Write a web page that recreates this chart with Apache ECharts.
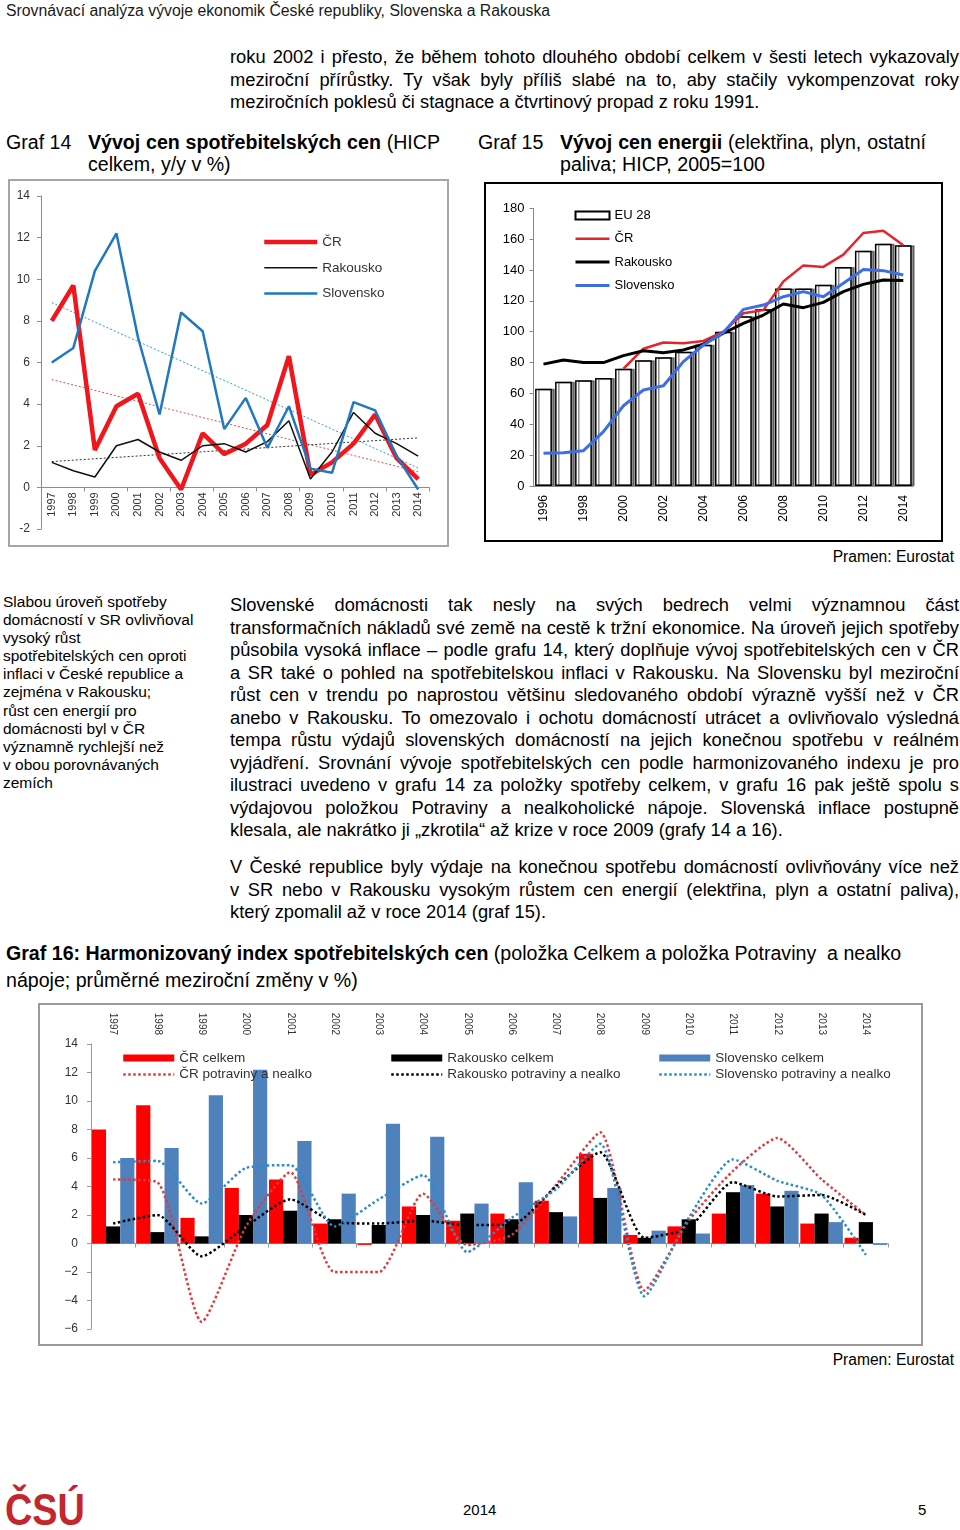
<!DOCTYPE html>
<html lang="cs"><head><meta charset="utf-8"><title>Srovnávací analýza</title>
<script src="https://cdn.jsdelivr.net/npm/echarts@6.0.0/dist/echarts.min.js"></script>
<style>
html,body{margin:0;padding:0;background:#fff}
body{width:960px;height:1530px;position:relative;overflow:hidden;font-family:'Liberation Sans',Arial,Helvetica,sans-serif;color:#000}
.a{position:absolute}
.j>div{text-align:justify;text-align-last:justify}
.j>div.e{text-align:left;text-align-last:left}
.box{position:absolute;box-sizing:border-box}
</style></head><body>
<div class="a" style="left:6px;top:2px;font-size:15.8px;line-height:18px;color:#1a1a1a;white-space:nowrap">Srovnávací analýza vývoje ekonomik České republiky, Slovenska a Rakouska</div>

<div class="a j" style="left:230px;top:46px;width:729px;font-size:18.3px;line-height:22.5px">
<div>roku 2002 i přesto, že během tohoto dlouhého období celkem v šesti letech vykazovaly</div>
<div>meziroční přírůstky. Ty však byly příliš slabé na to, aby stačily vykompenzovat roky</div>
<div class="e">meziročních poklesů či stagnace a čtvrtinový propad z roku 1991.</div>
</div>

<div class="a" style="left:6px;top:131px;font-size:19.6px;line-height:22px;white-space:nowrap">Graf 14</div>
<div class="a j" style="left:88px;top:131px;width:352px;font-size:19.6px;line-height:22px"><div><b>Vývoj cen spotřebitelských cen</b> (HICP</div><div class="e">celkem, y/y v %)</div></div>
<div class="a" style="left:478px;top:131px;font-size:19.6px;line-height:22px;white-space:nowrap">Graf 15</div>
<div class="a j" style="left:560px;top:131px;width:366px;font-size:19.6px;line-height:22px"><div><b>Vývoj cen energii</b> (elektřina, plyn, ostatní</div><div class="e">paliva; HICP, 2005=100</div></div>

<div id="g14" class="box" style="left:8px;top:179px;width:441px;height:368px;border:2px solid #a6a6a6"></div>
<div id="g15" class="box" style="left:484px;top:182px;width:459px;height:360px;border:2px solid #000"></div>

<div class="a" style="left:800px;top:547px;width:154px;text-align:right;font-size:15.6px;line-height:20px">Pramen: Eurostat</div>

<div class="a" style="left:3px;top:593px;width:222px;font-size:15.5px;line-height:18.1px">
<div>Slabou úroveň spotřeby</div>
<div>domácností v SR ovlivňoval</div>
<div>vysoký růst</div>
<div>spotřebitelských cen oproti</div>
<div>inflaci v České republice a</div>
<div>zejména v Rakousku;</div>
<div>růst cen energií pro</div>
<div>domácnosti byl v ČR</div>
<div>významně rychlejší než</div>
<div>v obou porovnávaných</div>
<div>zemích</div>
</div>

<div class="a j" style="left:230px;top:594px;width:729px;font-size:18.3px;line-height:22.5px">
<div>Slovenské domácnosti tak nesly na svých bedrech velmi významnou část</div>
<div>transformačních nákladů své země na cestě k tržní ekonomice. Na úroveň jejich spotřeby</div>
<div>působila vysoká inflace – podle grafu 14, který doplňuje vývoj spotřebitelských cen v ČR</div>
<div>a SR také o pohled na spotřebitelskou inflaci v Rakousku. Na Slovensku byl meziroční</div>
<div>růst cen v trendu po naprostou většinu sledovaného období výrazně vyšší než v ČR</div>
<div>anebo v Rakousku. To omezovalo i ochotu domácností utrácet a ovlivňovalo výsledná</div>
<div>tempa růstu výdajů slovenských domácností na jejich konečnou spotřebu v reálném</div>
<div>vyjádření. Srovnání vývoje spotřebitelských cen podle harmonizovaného indexu je pro</div>
<div>ilustraci uvedeno v grafu 14 za položky spotřeby celkem, v grafu 16 pak ještě spolu s</div>
<div>výdajovou položkou Potraviny a nealkoholické nápoje. Slovenská inflace postupně</div>
<div class="e">klesala, ale nakrátko ji „zkrotila“ až krize v roce 2009 (grafy 14 a 16).</div>
</div>

<div class="a j" style="left:230px;top:856px;width:729px;font-size:18.3px;line-height:22.5px">
<div>V České republice byly výdaje na konečnou spotřebu domácností ovlivňovány více než</div>
<div>v SR nebo v Rakousku vysokým růstem cen energií (elektřina, plyn a ostatní paliva),</div>
<div class="e">který zpomalil až v roce 2014 (graf 15).</div>
</div>

<div class="a" style="left:6px;top:939.5px;font-size:19.6px;line-height:27px;white-space:nowrap"><b>Graf 16: Harmonizovaný index spotřebitelských cen</b> (položka Celkem a položka Potraviny&nbsp; a nealko<br>nápoje; průměrné meziroční změny v %)</div>

<div id="g16" class="box" style="left:38px;top:1003px;width:885px;height:343px;border:2px solid #9a9a9a"></div>

<div class="a" style="left:800px;top:1350px;width:154px;text-align:right;font-size:15.6px;line-height:20px">Pramen: Eurostat</div>

<div class="a" style="left:5px;top:1488px;font-size:44px;line-height:44px;font-weight:bold;color:#c3272d;transform:scaleX(0.86);transform-origin:0 0;white-space:nowrap">ČSÚ</div>
<div class="a" style="left:463px;top:1501px;font-size:15px;line-height:18px">2014</div>
<div class="a" style="left:918px;top:1501px;font-size:15px;line-height:18px">5</div>

<script>
const FF = "'Liberation Sans', Arial, sans-serif";

// ---------- Graf 14 data ----------
const years14 = ['1997','1998','1999','2000','2001','2002','2003','2004','2005','2006','2007','2008','2009','2010','2011','2012','2013','2014'];
const cr14 = [8.0, 9.7, 1.8, 3.9, 4.5, 1.4, -0.1, 2.6, 1.6, 2.1, 3.0, 6.3, 0.6, 1.2, 2.1, 3.5, 1.4, 0.4];
const at14 = [1.2, 0.8, 0.5, 2.0, 2.3, 1.7, 1.3, 2.0, 2.1, 1.7, 2.2, 3.2, 0.4, 1.7, 3.6, 2.6, 2.1, 1.5];
const sk14 = [6.0, 6.7, 10.4, 12.2, 7.2, 3.5, 8.4, 7.5, 2.8, 4.3, 1.9, 3.9, 0.9, 0.7, 4.1, 3.7, 1.5, -0.1];
const trendYears14 = ['1997', '2014'];
const trendCr14 = [5.18, 0.75];
const trendAt14 = [1.24, 2.38];
const trendSk14 = [8.88, 0.93];

// ---------- Graf 15 data ----------
const years15 = ['1996','1997','1998','1999','2000','2001','2002','2003','2004','2005','2006','2007','2008','2009','2010','2011','2012','2013','2014'];
const eu15 = [63, 67.5, 68.5, 70, 76, 81.5, 83.5, 87, 91.5, 100, 110, 114.5, 128, 128, 130.5, 142, 152.5, 157, 156];
const cr15 = [null, null, null, null, 76, 89, 93, 92.5, 94, 100, 112, 114, 132.5, 143, 142, 150, 164, 165.5, 156];
const at15 = [79, 81.7, 80, 80, 84.5, 87.7, 86.4, 88.2, 92, 99, 105.4, 110.8, 118, 115.6, 119, 126, 130.7, 133.5, 133.2];
const sk15 = [21.2, 21.6, 22.9, 35.2, 52, 62.2, 65, 80.6, 91.4, 99.4, 114.5, 117.3, 122.7, 126, 122.7, 131.4, 140.4, 139.6, 136.8];

// ---------- Graf 16 data ----------
const years16 = ['1997','1998','1999','2000','2001','2002','2003','2004','2005','2006','2007','2008','2009','2010','2011','2012','2013','2014'];
const crTotal16 = [8.0, 9.7, 1.8, 3.9, 4.5, 1.4, -0.1, 2.6, 1.6, 2.1, 3.0, 6.3, 0.6, 1.2, 2.1, 3.5, 1.4, 0.4];
const atTotal16 = [1.2, 0.8, 0.5, 2.0, 2.3, 1.7, 1.3, 2.0, 2.1, 1.7, 2.2, 3.2, 0.4, 1.7, 3.6, 2.6, 2.1, 1.5];
const skTotal16 = [6.0, 6.7, 10.4, 12.2, 7.2, 3.5, 8.4, 7.5, 2.8, 4.3, 1.9, 3.9, 0.9, 0.7, 4.1, 3.7, 1.5, -0.1];
const crFood16 = [4.5, 4.3, -5.5, 1.2, 5.0, -2.0, -2.0, 3.5, -0.1, 0.6, 4.1, 7.8, -3.3, 1.6, 5.1, 7.4, 4.5, 2.0];
const atFood16 = [1.4, 2.0, -0.9, 1.2, 3.1, 1.5, 1.4, 1.6, 1.3, 1.3, 4.0, 6.4, 0.4, 1.1, 4.3, 3.3, 3.4, 2.0];
const skFood16 = [5.7, 5.8, 2.8, 5.3, 5.5, 1.2, 3.1, 4.8, -0.6, 1.8, 3.8, 7.0, -3.7, 1.8, 5.9, 4.4, 3.4, -0.8];

const pair = (xs, vs) => xs.map((x, i) => [x, vs[i]]);
const showIcon = { opacity: 1 };

// ---------- Graf 14 ----------
const c14 = echarts.init(document.getElementById('g14'));
c14.setOption({
  animation: false,
  textStyle: { fontFamily: FF },
  grid: { left: 31, right: 18, top: 15, bottom: 16, outerBoundsMode: 'none' },
  legend: {
    data: [
      { name: 'ČR', lineStyle: { width: 4.5 } },
      { name: 'Rakousko', lineStyle: { width: 1.5 } },
      { name: 'Slovensko', lineStyle: { width: 2.5 } }
    ],
    orient: 'vertical', left: 247, top: 49,
    itemWidth: 53, itemHeight: 12, itemGap: 11.8, itemStyle: { opacity: 0 },
    textStyle: { fontSize: 13.5, color: '#333', fontFamily: FF }
  },
  xAxis: [
    { type: 'category', data: years14, boundaryGap: true,
      axisLine: { onZero: true, lineStyle: { color: '#8c8c8c', width: 1 } },
      axisTick: { show: true, length: 4, lineStyle: { color: '#8c8c8c' } },
      axisLabel: { show: false } },
    { type: 'category', data: years14, boundaryGap: true, position: 'bottom', offset: -41.7,
      axisLine: { show: false, onZero: false }, axisTick: { show: false },
      axisLabel: { rotate: 90, fontSize: 11, color: '#333', margin: 5, interval: 0, fontFamily: FF } }
  ],
  yAxis: {
    type: 'value', min: -2, max: 14, interval: 2, splitLine: { show: false },
    axisLine: { show: true, lineStyle: { color: '#8c8c8c' } },
    axisTick: { show: true, length: 4, lineStyle: { color: '#8c8c8c' } },
    axisLabel: { fontSize: 12, color: '#333', margin: 11, fontFamily: FF }
  },
  series: [
    { name: 'trend ČR', type: 'line', data: pair(trendYears14, trendCr14), symbol: 'none', silent: true, lineStyle: { color: '#d9534f', width: 1, type: [2, 2] } },
    { name: 'trend Rakousko', type: 'line', data: pair(trendYears14, trendAt14), symbol: 'none', silent: true, lineStyle: { color: '#333', width: 1, type: [2, 2] } },
    { name: 'trend Slovensko', type: 'line', data: pair(trendYears14, trendSk14), symbol: 'none', silent: true, lineStyle: { color: '#3a95c8', width: 1, type: [2, 2] } },
    { name: 'ČR', type: 'line', data: cr14, symbol: 'none', lineStyle: { color: '#f0161b', width: 4.5 }, itemStyle: { color: '#f0161b' } },
    { name: 'Rakousko', type: 'line', data: at14, symbol: 'none', lineStyle: { color: '#111', width: 1.5 }, itemStyle: { color: '#111' } },
    { name: 'Slovensko', type: 'line', data: sk14, symbol: 'none', lineStyle: { color: '#1f78c1', width: 2.5 }, itemStyle: { color: '#1f78c1' } }
  ]
});

// ---------- Graf 15 ----------
const c15 = echarts.init(document.getElementById('g15'));
c15.setOption({
  animation: false,
  textStyle: { fontFamily: FF },
  grid: { left: 47.5, right: 27.7, top: 24.3, bottom: 54, outerBoundsMode: 'none' },
  legend: {
    orient: 'vertical', left: 83, top: 20, itemWidth: 34, itemHeight: 8, itemGap: 10.3,
    itemStyle: { opacity: 0 },
    data: [
      { name: 'EU 28', icon: 'rect', itemStyle: showIcon },
      { name: 'ČR', lineStyle: { width: 2.5 } },
      { name: 'Rakousko', lineStyle: { width: 3 } },
      { name: 'Slovensko', lineStyle: { width: 3 } }
    ],
    textStyle: { fontSize: 13, color: '#000', fontFamily: FF }
  },
  xAxis: {
    type: 'category', data: years15,
    axisLine: { lineStyle: { color: '#888' } },
    axisTick: { length: 4, interval: 0, lineStyle: { color: '#888' } },
    axisLabel: { rotate: 90, interval: 1, fontSize: 12, color: '#000', margin: 9, fontFamily: FF }
  },
  yAxis: {
    type: 'value', min: 0, max: 180, interval: 20, splitLine: { show: false },
    axisLine: { show: true, lineStyle: { color: '#888' } },
    axisTick: { show: true, length: 4, lineStyle: { color: '#888' } },
    axisLabel: { fontSize: 13, color: '#000', margin: 9, fontFamily: FF }
  },
  series: [
    { name: 'EU 28', type: 'bar', data: eu15, barCategoryGap: '16%',
      itemStyle: { color: '#fff', borderColor: '#000', borderWidth: 1.5, shadowColor: 'rgba(0,0,0,0.45)', shadowOffsetX: 3, shadowOffsetY: 0, shadowBlur: 0 } },
    { name: 'ČR', type: 'line', data: cr15, symbol: 'none', lineStyle: { color: '#e3262b', width: 2.5 }, itemStyle: { color: '#e3262b' } },
    { name: 'Rakousko', type: 'line', data: at15, symbol: 'none', lineStyle: { color: '#000', width: 3 }, itemStyle: { color: '#000' } },
    { name: 'Slovensko', type: 'line', data: sk15, symbol: 'none', lineStyle: { color: '#3d6ee6', width: 3 }, itemStyle: { color: '#3d6ee6' } }
  ]
});

// ---------- Graf 16 ----------
const legendBase = { orient: 'vertical', top: 41, itemWidth: 51, itemHeight: 7, itemGap: 2.5, itemStyle: { opacity: 0 },
  lineStyle: { width: 2.5 },
  textStyle: { fontSize: 13.5, color: '#333', fontFamily: FF } };
const c16 = echarts.init(document.getElementById('g16'));
c16.setOption({
  animation: false,
  textStyle: { fontFamily: FF },
  grid: { left: 51, right: 33, top: 39, bottom: 15, outerBoundsMode: 'none' },
  legend: [
    Object.assign({}, legendBase, { left: 77, data: [{ name: 'ČR celkem', icon: 'rect', itemStyle: showIcon }, 'ČR potraviny a nealko'] }),
    Object.assign({}, legendBase, { left: 345, data: [{ name: 'Rakousko celkem', icon: 'rect', itemStyle: showIcon }, 'Rakousko potraviny a nealko'] }),
    Object.assign({}, legendBase, { left: 613, data: [{ name: 'Slovensko celkem', icon: 'rect', itemStyle: showIcon }, 'Slovensko potraviny a nealko'] })
  ],
  xAxis: [
    { type: 'category', data: years16, position: 'top',
      axisLine: { show: false, onZero: false }, axisTick: { show: false },
      axisLabel: { rotate: 90, fontSize: 10, color: '#333', margin: 9, interval: 0, fontFamily: FF } },
    { type: 'category', data: years16, position: 'bottom',
      axisLine: { show: true, onZero: true, lineStyle: { color: '#999' } },
      axisTick: { show: true, length: 4, lineStyle: { color: '#999' } },
      axisLabel: { show: false } }
  ],
  yAxis: {
    type: 'value', min: -6, max: 14, interval: 2, splitLine: { show: false },
    axisLine: { show: true, lineStyle: { color: '#999' } },
    axisTick: { show: true, length: 4, lineStyle: { color: '#999' } },
    axisLabel: { fontSize: 12, color: '#333', margin: 13, fontFamily: FF, formatter: v => (v < 0 ? '−' + Math.abs(v) : String(v)) }
  },
  series: [
    { name: 'ČR celkem', type: 'bar', xAxisIndex: 0, data: crTotal16, barGap: '0%', barCategoryGap: '4%', itemStyle: { color: '#ff0000' } },
    { name: 'Rakousko celkem', type: 'bar', xAxisIndex: 0, data: atTotal16, barGap: '0%', barCategoryGap: '4%', itemStyle: { color: '#000000' } },
    { name: 'Slovensko celkem', type: 'bar', xAxisIndex: 0, data: skTotal16, barGap: '0%', barCategoryGap: '4%', itemStyle: { color: '#4f81bd' } },
    { name: 'ČR potraviny a nealko', type: 'line', xAxisIndex: 0, data: crFood16, smooth: 0.2, symbol: 'none', z: 5, lineStyle: { color: '#e03a3e', width: 2.5, type: 'dotted' }, itemStyle: { color: '#e03a3e' } },
    { name: 'Rakousko potraviny a nealko', type: 'line', xAxisIndex: 0, data: atFood16, smooth: 0.2, symbol: 'none', z: 5, lineStyle: { color: '#000', width: 2.5, type: 'dotted' }, itemStyle: { color: '#000' } },
    { name: 'Slovensko potraviny a nealko', type: 'line', xAxisIndex: 0, data: skFood16, smooth: 0.2, symbol: 'none', z: 5, lineStyle: { color: '#2a8cc8', width: 2.5, type: 'dotted' }, itemStyle: { color: '#2a8cc8' } }
  ]
});
</script>
</body></html>
